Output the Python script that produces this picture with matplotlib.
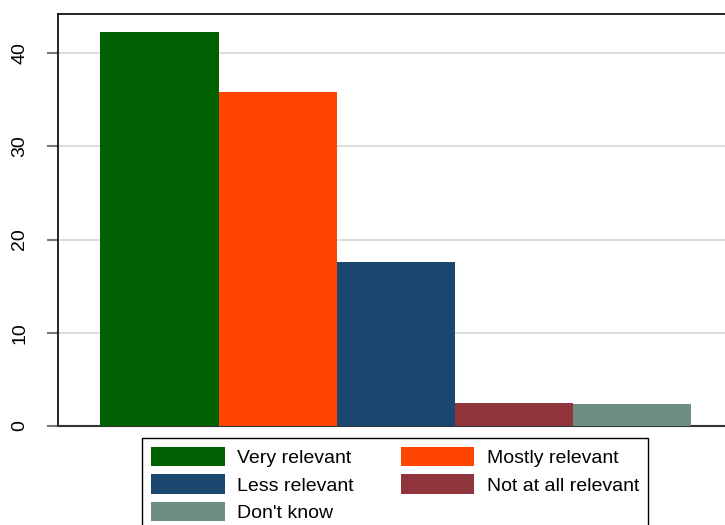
import matplotlib
matplotlib.use("Agg")
import matplotlib.pyplot as plt
from matplotlib.patches import Patch

categories = ["Very relevant", "Mostly relevant", "Less relevant", "Not at all relevant", "Don't know"]
values = [42.2, 35.8, 17.6, 2.45, 2.35]
colors = ["#005f00", "#ff4500", "#1a476f", "#90353b", "#6e8e84"]
yticks = [0, 10, 20, 30, 40]

plt.rcParams['font.family'] = ['Liberation Sans', 'DejaVu Sans']

W, H = 725, 525
fig = plt.figure(figsize=(W / 100, H / 100), dpi=100)
left, top, bottom = 57.5, 13.5, 426
ax = fig.add_axes([left / W, 1 - bottom / H, 1 - left / W, (bottom - top) / H])

x = list(range(len(categories)))
ax.bar(x, values, width=1.0, color=colors, linewidth=0, zorder=3)

unit = 118.2
ax.set_xlim(-0.5 - (100.3 - left) / unit, -0.5 + (W - 100.3) / unit)
ax.set_ylim(0, 0 + (bottom - top) / 9.325)

ax.set_yticks(yticks)
ax.set_yticklabels([str(t) for t in yticks], rotation=90, va='center', fontsize=14)
ax.tick_params(axis='y', length=8, width=1.5, color='#777777', pad=13)
ax.set_xticks([])
ax.yaxis.grid(True, color='#dddddd', linewidth=1.5, zorder=0)
ax.set_axisbelow(True)

for s in ['left', 'top']:
    ax.spines[s].set_color('black')
    ax.spines[s].set_linewidth(1.2)
ax.spines['bottom'].set_color('#333333')
ax.spines['bottom'].set_linewidth(1.5)
ax.spines['right'].set_visible(False)

handles = [Patch(facecolor=c, edgecolor='none') for c in colors]
order = [0, 2, 4, 1, 3]
leg = fig.legend([handles[i] for i in order], [categories[i] for i in order],
                 ncol=2, loc='upper left', bbox_to_anchor=(142 / W, 1 - 438 / H),
                 fontsize=14, frameon=True, fancybox=False, edgecolor='black',
                 framealpha=1, handlelength=3.8, handleheight=1.15, handletextpad=0.65,
                 columnspacing=2.4, labelspacing=0.38, borderpad=0.45, borderaxespad=0)
leg.get_frame().set_linewidth(1.0)

fig.savefig("out.png", dpi=100)
